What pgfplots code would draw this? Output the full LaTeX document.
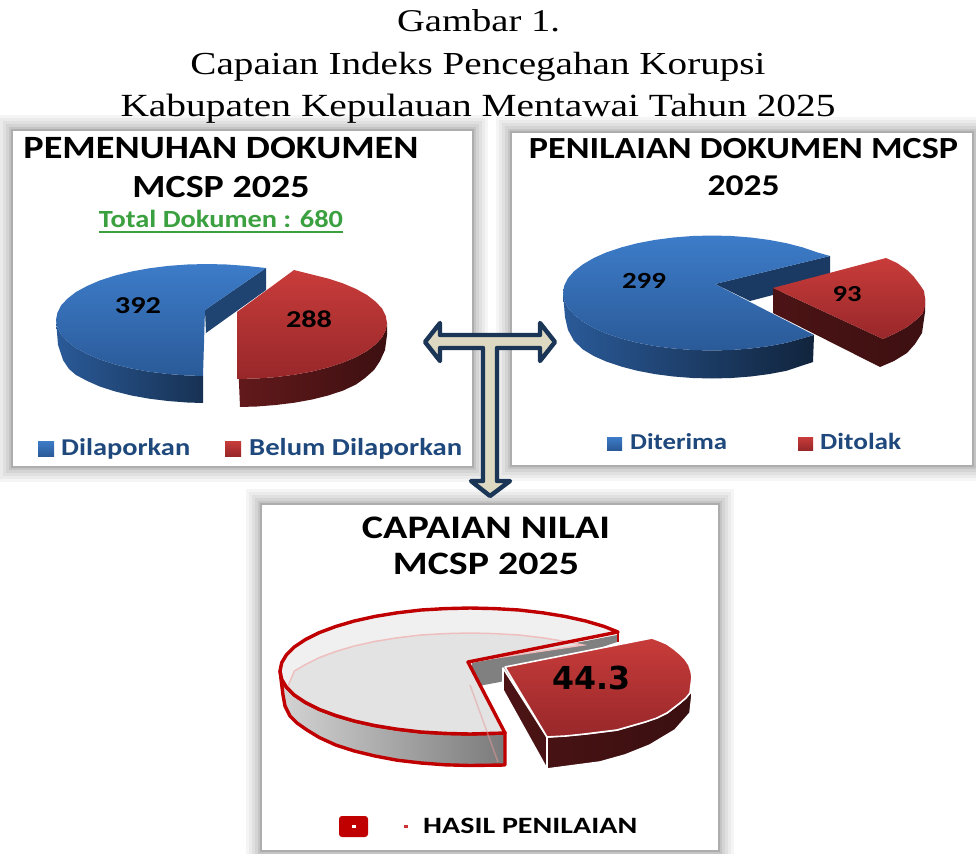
\documentclass[border=0pt]{standalone}
\usepackage{pgfplots}
\pgfplotsset{compat=1.18}
\usepackage{fontspec}
\setmainfont{Liberation Serif}
\newfontfamily\cb{Carlito}
\newfontfamily\dv{DejaVu Sans}
\definecolor{navy}{HTML}{1F497D}
\definecolor{arrowline}{HTML}{1B3556}
\definecolor{arrowfill}{HTML}{DDD8C2}
\definecolor{tgreen}{HTML}{3BA03F}
\definecolor{bluetop}{HTML}{3D7CC9}
\definecolor{bluelow}{HTML}{2A5A98}
\definecolor{redtop}{HTML}{C83C3A}
\definecolor{redlow}{HTML}{98272A}
\definecolor{mcred}{HTML}{C00000}
\newcommand{\T}[5]{\node[anchor=base,inner sep=0pt,text=#4] at (axis cs:#1,#2) {\resizebox{#3pt}{!}{#5}};}
\newcommand{\Tl}[5]{\node[anchor=base west,inner sep=0pt,text=#4] at (axis cs:#1,#2) {\resizebox{#3pt}{!}{#5}};}
\newcommand{\vs}[2]{\scalebox{1}[#1]{\cb\bfseries #2}}
\newcommand{\shadow}[4]{%
 \fill[black!4] (axis cs:#1-16,#2-16) rectangle (axis cs:#3+16,#4+16);
 \fill[black!8] (axis cs:#1-13,#2-13) rectangle (axis cs:#3+13,#4+13);
 \fill[black!12] (axis cs:#1-10,#2-10) rectangle (axis cs:#3+10,#4+10);
 \fill[black!17] (axis cs:#1-7,#2-7) rectangle (axis cs:#3+7,#4+7);
 \fill[black!23] (axis cs:#1-4,#2-4) rectangle (axis cs:#3+4,#4+4);
 \fill[black!32] (axis cs:#1-2,#2-2) rectangle (axis cs:#3+2,#4+2);
 \fill[white] (axis cs:#1,#2) rectangle (axis cs:#3,#4);}
\begin{document}
\begin{tikzpicture}
\begin{axis}[scale only axis,width=976pt,height=853pt,xmin=0,xmax=976,ymin=0,ymax=853,y dir=reverse,hide axis,clip=true,no markers]
\fill[white] (axis cs:0,0) rectangle (axis cs:976,853);
\shadow{13}{131}{472}{466}
\shadow{512}{133}{972}{465}
\shadow{262}{505}{718}{850}
% titles
\T{478.5}{32}{163}{black}{\scalebox{1}[.82]{\fontsize{32}{36}\selectfont Gambar 1.}}
\T{478}{75}{575}{black}{\scalebox{1}[.82]{\fontsize{32}{36}\selectfont Capaian Indeks Pencegahan Korupsi}}
\T{478}{117}{715}{black}{\scalebox{1}[.82]{\fontsize{32}{36}\selectfont Kabupaten Kepulauan Mentawai Tahun 2025}}
% panel 1 text
\T{221}{159}{395}{black}{\vs{.85}{PEMENUHAN DOKUMEN}}
\T{221}{197}{177}{black}{\vs{.85}{MCSP 2025}}
\T{221}{227}{244}{tgreen}{\vs{.87}{Total Dokumen : 680}}
\addplot[draw=tgreen,line width=1.3pt] coordinates {(99,232) (343,232)};
% panel 1 blue slice (392)
\addplot[draw=none,fill=bluelow!75!black] coordinates {(205,310) (266,268) (266,290) (206,333)} -- cycle;
\addplot[draw=none,left color=bluelow,right color=bluelow!55!black] coordinates {(56,320) (57.4,327.3) (61,334.5) (67.5,341.4) (76,348) (87.3,354.1) (100,359.6) (115,364.4) (131.5,368.5) (149.2,371.7) (168,374) (187.2,375.5) (203,376) (203,403) (187.2,402.5) (168,401) (149.2,398.7) (131.5,395.5) (115,391.4) (100,386.6) (87.3,381) (76,375) (69,369) (63,360) (58,345)} -- cycle;
\addplot[draw=none,top color=bluetop,bottom color=bluelow] coordinates {(205,310) (266,268) (246,265.9) (226.8,264.5) (207,264) (187.2,264.5) (168,265.9) (149.2,268.3) (131.5,271.5) (115,275.6) (100,280.4) (87.3,285.9) (76,292) (67.5,298.6) (61,305.5) (57.4,312.7) (56,320) (57.4,327.3) (61,334.5) (67.5,341.4) (76,348) (87.3,354.1) (100,359.6) (115,364.4) (131.5,368.5) (149.2,371.7) (168,374) (187.2,375.5) (203,376)} -- cycle;
% panel 1 red slice (288)
\addplot[draw=none,left color=redlow!65!black,right color=redlow!40!black] coordinates {(237,335) (237,379) (256.7,378.5) (275.8,377.1) (294.5,374.7) (312,371.5) (328.4,367.4) (343,362.6) (356,357.1) (367,351) (375.6,344.4) (382,337.5) (385.7,330.3) (387,323) (387,335) (385,350) (380,361) (374,370) (365,378) (356,384.5) (343,390.6) (328.4,395.4) (312,399.5) (294.5,402.7) (275.8,405) (256.7,406.5) (240,407)} -- cycle;
\addplot[draw=none,top color=redtop,bottom color=redlow] coordinates {(237,312) (294,270) (312,274.5) (328.4,278.6) (343,283.4) (356,288.9) (367,295) (375.6,301.6) (382,308.5) (385.7,315.7) (387,323) (385.7,330.3) (382,337.5) (375.6,344.4) (367,351) (356,357.1) (343,362.6) (328.4,367.4) (312,371.5) (294.5,374.7) (275.8,377.1) (256.7,378.5) (237,379)} -- cycle;
\T{138}{313}{46}{black}{\vs{.8}{392}}
\T{309}{327}{46}{black}{\vs{.8}{288}}
% panel 1 legend
\addplot[draw=none,top color=bluetop,bottom color=bluelow] coordinates {(38,441) (54,441) (54,456) (38,456)} -- cycle;
\addplot[draw=none,top color=redtop,bottom color=redlow] coordinates {(225,441) (241,441) (241,456) (225,456)} -- cycle;
\Tl{61}{455}{129}{navy}{\vs{.85}{Dilaporkan}}
\Tl{249}{455}{213}{navy}{\vs{.85}{Belum Dilaporkan}}
% panel 2 text
\T{743.5}{159}{429}{black}{\vs{.85}{PENILAIAN DOKUMEN MCSP}}
\T{743.5}{195}{72}{black}{\vs{.85}{2025}}
% panel 2 blue slice (299)
\addplot[draw=none,fill=bluelow!65!black] coordinates {(715,284) (830,256) (830,280) (750,301)} -- cycle;
\addplot[draw=none,left color=bluelow,right color=bluelow!40!black] coordinates {(563,293) (564.3,300.5) (568,307.9) (574.3,315) (583,321.7) (593.8,328) (606.6,333.7) (621.3,338.6) (637.5,342.8) (655,346.1) (673.4,348.5) (692.5,350) (712,350.5) (731.5,350) (750.6,348.5) (769,346.1) (786.5,342.8) (814,335) (813,362) (786.5,370.8) (769,374.1) (750.6,376.5) (731.5,378) (712,378.5) (692.5,378) (673.4,376.5) (655,374.1) (637.5,370.8) (621.3,366.6) (606.6,361.7) (593.8,356) (583,349.5) (574,341) (568,330) (565,317)} -- cycle;
\addplot[draw=none,top color=bluetop,bottom color=bluelow] coordinates {(715,284) (830,256) (817,252.3) (802.7,247.4) (786.5,243.2) (769,239.9) (750.6,237.5) (731.5,236) (712,235.5) (692.5,236) (673.4,237.5) (655,239.9) (637.5,243.2) (621.3,247.4) (606.6,252.3) (593.8,258) (583,264.3) (574.3,271) (568,278.1) (564.3,285.5) (563,293) (564.3,300.5) (568,307.9) (574.3,315) (583,321.7) (593.8,328) (606.6,333.7) (621.3,338.6) (637.5,342.8) (655,346.1) (673.4,348.5) (692.5,350) (712,350.5) (731.5,350) (750.6,348.5) (769,346.1) (786.5,342.8) (814,335)} -- cycle;
% panel 2 red slice (93)
\addplot[draw=none,left color=redlow!50!black,right color=redlow!40!black] coordinates {(773,288) (883,339) (896,333) (907,327) (916,320) (923,313) (925,298) (925,312) (922,333) (915,344) (907,353) (894,361) (880,367) (773,313)} -- cycle;
\addplot[draw=none,top color=redtop,bottom color=redlow] coordinates {(773,288) (886,258) (897,263) (907,270) (914,277) (920,285) (924,291) (925,298) (925,306) (923,313) (916,320) (907,327) (896,333) (883,339)} -- cycle;
\T{644}{288}{44}{black}{\vs{.8}{299}}
\T{847}{301}{29}{black}{\vs{.8}{93}}
% panel 2 legend
\addplot[draw=none,top color=bluetop,bottom color=bluelow] coordinates {(607,437) (622,437) (622,450) (607,450)} -- cycle;
\addplot[draw=none,top color=redtop,bottom color=redlow] coordinates {(798,437) (813,437) (813,450) (798,450)} -- cycle;
\Tl{630}{449}{97}{navy}{\vs{.85}{Diterima}}
\Tl{820}{449}{81}{navy}{\vs{.85}{Ditolak}}
% panel 3 text
\T{486}{538}{248}{black}{\vs{.82}{CAPAIAN NILAI}}
\T{486}{574}{186}{black}{\vs{.82}{MCSP 2025}}
% panel 3 grey slice
\addplot[draw=none,fill=black!50] coordinates {(472,663) (617,635) (617,642) (500,682) (473,687)} -- cycle;
\addplot[draw=mcred,line width=3.4pt,line join=round,left color=black!17,right color=black!52] coordinates {(280,671) (281.7,679.3) (286.5,687.3) (294.4,695.1) (305.5,702.5) (319.3,709.4) (335.7,715.5) (354.3,721) (375,725.6) (397.2,729.2) (421,732) (445.1,733.4) (470,734) (505,733) (505,765) (470,765.5) (445.1,764.8) (421,763) (397.2,760.2) (375,756) (354.3,751) (335.7,745) (319.3,737.5) (307,730) (297,723) (290,716) (285,706) (283,695)} -- cycle;
\addplot[draw=none,fill=black!6] coordinates {(468,662) (618,632) (604.3,626.5) (585.7,621) (565,616.4) (542.8,612.8) (519,610) (494.9,608.6) (470,608) (445.1,608.6) (421,610) (397.2,612.8) (375,616.4) (354.3,621) (335.7,626.5) (319.3,632.6) (305.5,639.5) (294.4,646.9) (286.5,654.7) (281.7,662.7) (280,671) (281.7,679.3) (286.5,687.3) (294.4,695.1) (305.5,702.5) (319.3,709.4) (335.7,715.5) (354.3,721) (375,725.6) (397.2,729.2) (421,732) (445.1,733.4) (470,734) (505,733)} -- cycle;
\addplot[draw=mcred!25!white,line width=1.5pt,fill=black!11] coordinates {(288,686) (294.4,671) (305.5,664.5) (319.3,657.6) (335.7,651.5) (354.3,646) (375,641.4) (397.2,637.8) (421,635) (445.1,633.6) (470,633) (494.9,633.6) (519,635) (542.8,637.8) (565,641.4) (583,645) (468,662) (505,733) (470,734) (445.1,733.4) (421,732) (397.2,729.2) (375,725.6) (354.3,721) (335.7,715.5) (319.3,709.4) (305.5,702.5) (294.4,695.1)} -- cycle;
\addplot[draw=mcred,line width=3.4pt,line join=round] coordinates {(468,662) (618,632) (604.3,626.5) (585.7,621) (565,616.4) (542.8,612.8) (519,610) (494.9,608.6) (470,608) (445.1,608.6) (421,610) (397.2,612.8) (375,616.4) (354.3,621) (335.7,626.5) (319.3,632.6) (305.5,639.5) (294.4,646.9) (286.5,654.7) (281.7,662.7) (280,671) (281.7,679.3) (286.5,687.3) (294.4,695.1) (305.5,702.5) (319.3,709.4) (335.7,715.5) (354.3,721) (375,725.6) (397.2,729.2) (421,732) (445.1,733.4) (470,734) (505,733)} -- cycle;
\addplot[draw=mcred,line width=2.8pt] coordinates {(618,632) (618,642)};
\addplot[draw=mcred!40!white,line width=1.5pt,opacity=0.5] coordinates {(470,685) (498,762)};
% panel 3 red slice (44.3)
\addplot[draw=white,line width=1.6pt,line join=round,left color=redlow!50!black,right color=redlow!38!black] coordinates {(503,668) (547,737) (585,734) (617,730) (645,722) (667,713) (680,703) (690,693) (692,677) (692,695) (690,713) (675,730) (650,745) (625,755) (600,762) (547,769) (503,690)} -- cycle;
\addplot[draw=white,line width=1.6pt,line join=round,top color=redtop,bottom color=redlow] coordinates {(505,667) (652,638) (660,641) (667,644) (674,649) (680,654) (685,659) (689,665) (691,671) (692,677) (691,685) (690,693) (686,698) (680,703) (667,713) (657,718) (645,722) (631,726) (617,730) (601,732) (585,734) (566,736) (547,737)} -- cycle;
\addplot[draw=white,line width=1.6pt] coordinates {(547,737) (547,769)};
\T{591}{689}{78}{black}{\dv\bfseries 44.3}
% panel 3 legend
\node[fill=mcred,rounded corners=3pt,minimum width=29pt,minimum height=21pt,inner sep=0pt] at (axis cs:353.5,826.5) {};
\addplot[draw=none,fill=white] coordinates {(352,825) (356,825) (356,828) (352,828)} -- cycle;
\addplot[draw=none,fill=mcred!80!white] coordinates {(404,825) (408,825) (408,828) (404,828)} -- cycle;
\Tl{423}{833}{214}{black}{\vs{.78}{HASIL PENILAIAN}}
% T arrow
\addplot[draw=arrowline,line width=4.4pt,line join=round,fill=arrowfill] coordinates {(425,342) (440,323) (440,335) (540,335) (540,323) (555,342) (540,361) (540,348) (497,348) (497,481) (510,481) (490,496) (471,481) (483,481) (483,348) (440,348) (440,361)} -- cycle;
\end{axis}
\end{tikzpicture}
\end{document}
